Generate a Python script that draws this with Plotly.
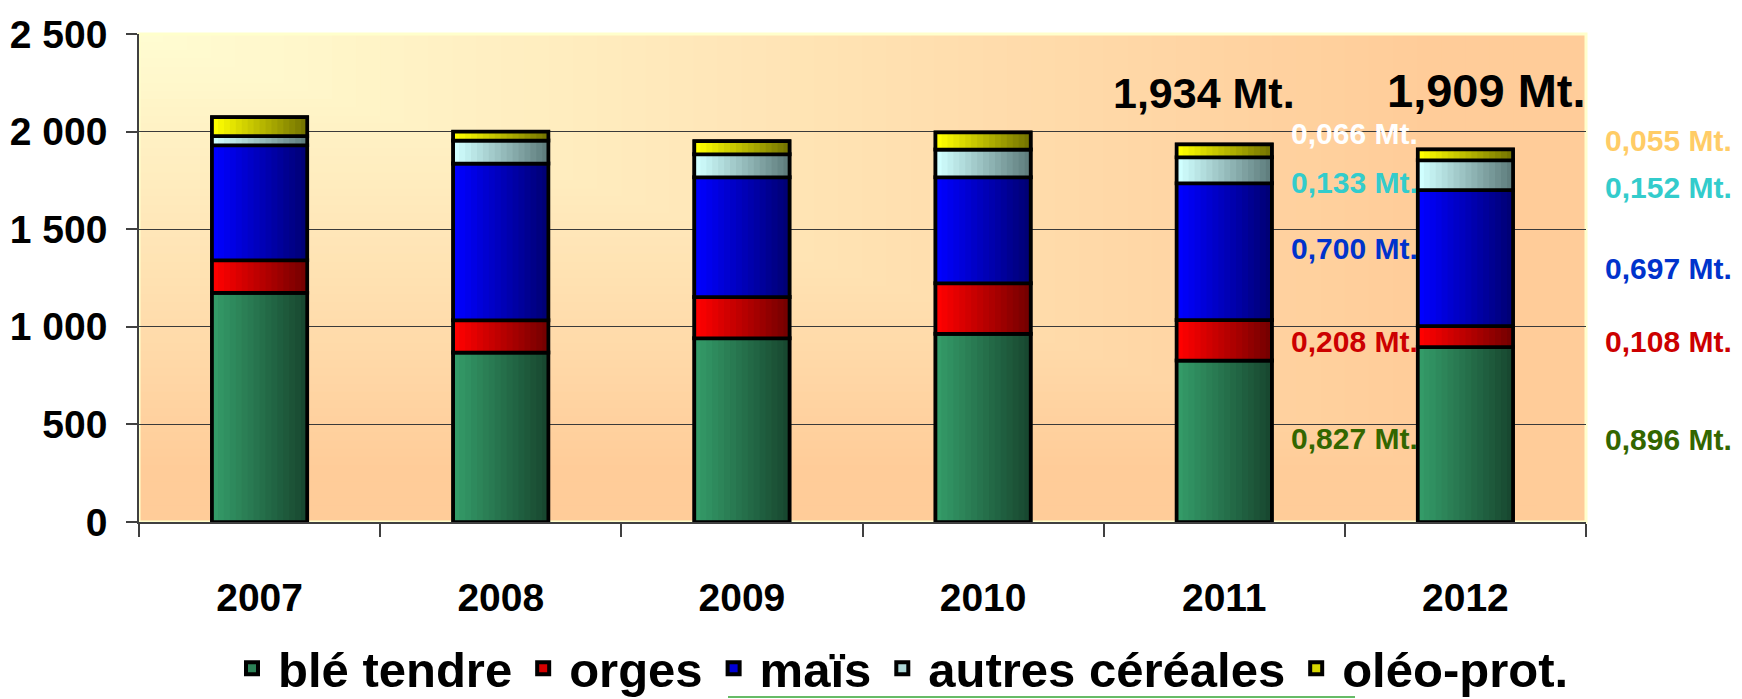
import base64
import plotly.graph_objects as go

# ---------------- data ----------------
years = ["2007", "2008", "2009", "2010", "2011", "2012"]
ble_tendre = [1175, 868, 941, 965, 827, 896]
orges = [166, 165, 212, 258, 208, 108]
mais = [589, 803, 613, 543, 700, 697]
autres_cereales = [47, 119, 118, 142, 133, 152]
oleo_prot = [96, 44, 66, 88, 66, 55]

series_names = ["blé tendre", "orges", "maïs", "autres céréales", "oléo-prot."]
series_values = [ble_tendre, orges, mais, autres_cereales, oleo_prot]

y_tick_values = [0, 500, 1000, 1500, 2000, 2500]
y_tick_labels = ["0", "500", "1 000", "1 500", "2 000", "2 500"]

labels_2011 = ["0,827 Mt.", "0,208 Mt.", "0,700 Mt.", "0,133 Mt.", "0,066 Mt."]
labels_2012 = ["0,896 Mt.", "0,108 Mt.", "0,697 Mt.", "0,152 Mt.", "0,055 Mt."]
total_2011 = "1,934 Mt."
total_2012 = "1,909 Mt."

# ---------------- styling ----------------
OFF = 8                      # page body margin
PAGE_W, PAGE_H = 1742, 699
FW, FH = PAGE_W - OFF, PAGE_H - OFF
P_LEFT, P_RIGHT, P_TOP, P_BOTTOM = 139, 1586, 34, 522   # plot area in page pixels
ML = P_LEFT - OFF
MT = P_TOP - OFF
MR = FW + OFF - P_RIGHT
MB = FH + OFF - P_BOTTOM
PW, PH = P_RIGHT - P_LEFT, P_BOTTOM - P_TOP

SANS = "Liberation Sans, Arial, sans-serif"

grad = [
    ((52, 155, 104), (24, 72, 48)),
    ((255, 0, 0), (118, 0, 0)),
    ((0, 0, 255), (0, 0, 118)),
    ((208, 255, 255), (96, 126, 126)),
    ((255, 255, 0), (118, 118, 0)),
]
lab2011_colors = ["#336600", "#cc0000", "#0033cc", "#33cccc", "#ffffff"]
lab2012_colors = ["#336600", "#cc0000", "#0033cc", "#33cccc", "#ffcc66"]
lab2011_py = [438, 342, 249, 182, 133]
lab2012_py = [439, 342, 268, 187, 140]


def lerp(a, b, t):
    return tuple(int(round(a[i] + (b[i] - a[i]) * t)) for i in range(3))


def rgb(c):
    return "rgb(%d,%d,%d)" % c


def px(x):
    return (x - P_LEFT) / PW


def py(y):
    return (P_BOTTOM - y) / PH


# background gradient (rectangular, from top-left corner)
light = (255, 253, 210)
peach = (255, 204, 153)
N = 60
rects = []
for k in range(N):
    f = 1 - k / N
    c = lerp(light, peach, min(1.0, f / 0.9))
    rects.append('<rect x="0" y="0" width="%.2f" height="%.2f" fill="%s"/>' % (PW * f, PH * f, rgb(c)))
svg = ('<svg xmlns="http://www.w3.org/2000/svg" width="%d" height="%d" viewBox="0 0 %d %d" preserveAspectRatio="none">'
       % (PW, PH, PW, PH) + "".join(rects) + "</svg>")
bg_uri = "data:image/svg+xml;base64," + base64.b64encode(svg.encode()).decode()

fig = go.Figure()

BAR_W = 0.394
NS = 16
cum = [0] * len(years)
for si, (name, vals) in enumerate(zip(series_names, series_values)):
    base = list(cum)
    L, R = grad[si]
    fig.add_bar(x=years, y=vals, base=base, width=BAR_W, name=name,
                marker=dict(color=rgb(lerp(L, R, 0.3)), line=dict(color="black", width=4)),
                showlegend=True, hoverinfo="skip")
    for k in range(NS):
        t = k / (NS - 1)
        fig.add_bar(x=years, y=vals, base=base, width=BAR_W / NS + 0.004,
                    offset=-BAR_W / 2 + k * BAR_W / NS,
                    marker=dict(color=rgb(lerp(L, R, t)), line=dict(width=0)),
                    showlegend=False, hoverinfo="skip")
    fig.add_bar(x=years, y=vals, base=base, width=BAR_W,
                marker=dict(color="rgba(0,0,0,0)", line=dict(color="black", width=3.5)),
                showlegend=False, hoverinfo="skip")
    cum = [a + b for a, b in zip(cum, vals)]

annotations = []
annotations.append(dict(text=total_2011, xref="paper", yref="paper", x=px(1204), y=py(93),
                        xanchor="center", yanchor="middle", showarrow=False,
                        font=dict(family=SANS, size=43, color="black", weight="bold")))
annotations.append(dict(text=total_2012, xref="paper", yref="paper", x=px(1588), y=py(90),
                        xanchor="right", yanchor="middle", showarrow=False,
                        font=dict(family=SANS, size=47, color="black", weight="bold")))
for t, c, yy in zip(labels_2011, lab2011_colors, lab2011_py):
    annotations.append(dict(text=t, xref="paper", yref="paper", x=px(1420), y=py(yy),
                            xanchor="right", yanchor="middle", showarrow=False,
                            font=dict(family=SANS, size=30, color=c, weight="bold")))
for t, c, yy in zip(labels_2012, lab2012_colors, lab2012_py):
    annotations.append(dict(text=t, xref="paper", yref="paper", x=px(1603), y=py(yy),
                            xanchor="left", yanchor="middle", showarrow=False,
                            font=dict(family=SANS, size=30, color=c, weight="bold")))

shapes = [
    dict(type="rect", xref="paper", yref="paper", x0=0, x1=1, y0=0, y1=1,
         line=dict(color="#ffffcc", width=3), fillcolor="rgba(0,0,0,0)", layer="between"),
    dict(type="line", xref="paper", yref="paper", x0=px(728), x1=px(1355), y0=py(697), y1=py(697),
         line=dict(color="#66bb66", width=2)),
]

fig.update_layout(
    width=FW, height=FH,
    margin=dict(l=ML, r=MR, t=MT, b=MB, autoexpand=False),
    paper_bgcolor="white", plot_bgcolor="rgba(0,0,0,0)",
    barmode="overlay",
    images=[dict(source=bg_uri, xref="paper", yref="paper", x=0, y=1, sizex=1, sizey=1,
                 xanchor="left", yanchor="top", sizing="stretch", layer="below")],
    shapes=shapes,
    annotations=annotations,
    legend=dict(orientation="h", x=px(900), xanchor="center", y=py(630), yanchor="top",
                font=dict(family=SANS, size=49, color="black", weight="bold"),
                bgcolor="rgba(0,0,0,0)", itemwidth=42),
)
fig.update_xaxes(type="category", showline=True, linecolor="#404040", linewidth=1.5,
                 ticks="outside", tickson="boundaries", ticklen=13, tickcolor="#404040",
                 tickwidth=1.5, showgrid=False, ticklabelstandoff=40, automargin=False,
                 tickfont=dict(family=SANS, size=39, color="black", weight="bold"))
fig.update_yaxes(range=[0, 2500], tickvals=y_tick_values, ticktext=y_tick_labels,
                 showline=True, linecolor="#404040", linewidth=1.5,
                 ticks="outside", ticklen=11, tickcolor="#404040", tickwidth=1.5,
                 showgrid=True, gridcolor="#3a3a3a", gridwidth=1, zeroline=False,
                 ticklabelstandoff=11, automargin=False,
                 tickfont=dict(family=SANS, size=39, color="black", weight="bold"))

fig.write_html("out.html")
